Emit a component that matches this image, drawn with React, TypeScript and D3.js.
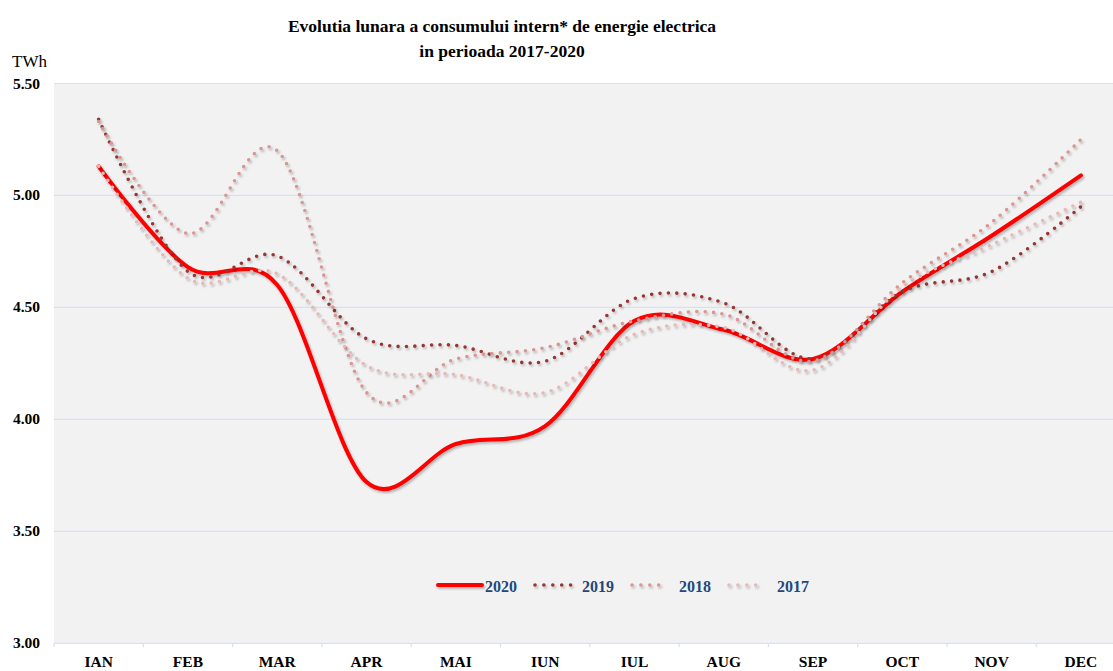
import React from "react";
import * as d3 from "d3";

const months = ["IAN", "FEB", "MAR", "APR", "MAI", "IUN", "IUL", "AUG", "SEP", "OCT", "NOV", "DEC"];
const values2020 = [5.13, 4.68, 4.6, 3.72, 3.89, 3.97, 4.44, 4.4, 4.27, 4.57, 4.82, 5.09];
const values2019 = [5.34, 4.66, 4.73, 4.36, 4.33, 4.26, 4.54, 4.52, 4.27, 4.57, 4.66, 4.95];
const values2018 = [5.33, 4.83, 5.2, 4.12, 4.27, 4.32, 4.44, 4.47, 4.26, 4.61, 4.88, 5.25];
const values2017 = [5.13, 4.63, 4.65, 4.24, 4.2, 4.12, 4.38, 4.41, 4.22, 4.59, 4.78, 4.97];
const yTicks = [3.0, 3.5, 4.0, 4.5, 5.0, 5.5];
const yTickLabels = ["3.00", "3.50", "4.00", "4.50", "5.00", "5.50"];
const seriesNames = ["2020", "2019", "2018", "2017"];

const W = 1113;
const H = 671;
const FONT = "'Liberation Serif', 'Times New Roman', serif";

export default function App() {
  const plotLeft = 54;
  const plotRight = 1125.6;
  const plotTop = 83.5;
  const plotBottom = 643.3;

  const x = d3.scaleBand<string>().domain(months).range([plotLeft, plotRight]).padding(0);
  const y = d3.scaleLinear().domain([3, 5.5]).range([plotBottom, plotTop]);
  const cx = (m: string) => (x(m) as number) + x.bandwidth() / 2;

  const line = d3
    .line<number>()
    .x((_, i) => cx(months[i]))
    .y((d) => y(d))
    .curve(d3.curveCardinal.tension(0));

  const series = [
    { name: seriesNames[0], values: values2020, color: "#ff0000", width: 4, dash: undefined as string | undefined },
    { name: seriesNames[1], values: values2019, color: "#953735", width: 3.6, dash: "0 8.4" },
    { name: seriesNames[2], values: values2018, color: "#d99694", width: 3.6, dash: "0 8.4" },
    { name: seriesNames[3], values: values2017, color: "#e6b9b8", width: 3.6, dash: "0 8.4" },
  ];

  const boundaries = d3.range(months.length + 1).map((i) => plotLeft + i * x.bandwidth()).filter((v) => v <= W);

  const legendItems = [
    { x0: 438, x1: 482, tx: 485 },
    { x0: 535, x1: 571, tx: 582 },
    { x0: 632, x1: 667, tx: 679 },
    { x0: 729, x1: 764, tx: 777 },
  ];
  const legendY = 585;

  return (
    <svg
      width={W}
      height={H}
      style={{ position: "fixed", left: 0, top: 0, background: "#ffffff" }}
      fontFamily={FONT}
    >
      <defs>
        <filter id="shadow" filterUnits="userSpaceOnUse" x={0} y={0} width={W} height={H}>
          <feDropShadow dx="1.5" dy="2" stdDeviation="1" floodColor="#000000" floodOpacity="0.25" />
        </filter>
        <clipPath id="plotClip">
          <rect x={plotLeft} y={0} width={W - plotLeft} height={H} />
        </clipPath>
      </defs>

      <rect x={0} y={0} width={W} height={H} fill="#ffffff" />
      <rect x={plotLeft} y={plotTop} width={W - plotLeft} height={plotBottom - plotTop} fill="#f2f2f2" />

      {yTicks.map((t, i) => (
        <g key={t}>
          <line x1={plotLeft} x2={W} y1={y(t)} y2={y(t)} stroke="#d5e2f2" strokeWidth={1.2} />
          <text x={40} y={y(t) + 5} textAnchor="end" fontSize={15.5} fontWeight="bold" fill="#000">
            {yTickLabels[i]}
          </text>
        </g>
      ))}

      {boundaries.map((b) => (
        <line key={b} x1={b} x2={b} y1={plotBottom} y2={plotBottom + 4} stroke="#d5e2f2" strokeWidth={1.2} />
      ))}

      {months.map((m) => (
        <text key={m} x={cx(m)} y={667} textAnchor="middle" fontSize={15.5} fontWeight="bold" fill="#000">
          {m}
        </text>
      ))}

      <text x={12} y={67} fontSize={17} fill="#000">
        TWh
      </text>

      <text x={502} y={32} textAnchor="middle" fontSize={17.5} fontWeight="bold" fill="#000">
        Evolutia lunara a consumului intern* de energie electrica
      </text>
      <text x={502} y={56.5} textAnchor="middle" fontSize={17.5} fontWeight="bold" fill="#000">
        in perioada 2017-2020
      </text>

      <g clipPath="url(#plotClip)">
        {series.map((s) => (
          <path
            key={s.name}
            d={line(s.values) || ""}
            fill="none"
            stroke={s.color}
            strokeWidth={s.width}
            strokeLinecap="round"
            strokeLinejoin="round"
            strokeDasharray={s.dash}
            filter="url(#shadow)"
          />
        ))}
      </g>

      {series.map((s, i) => (
        <g key={"lg" + s.name}>
          <line
            x1={legendItems[i].x0}
            x2={legendItems[i].x1}
            y1={legendY}
            y2={legendY}
            stroke={s.color}
            strokeWidth={s.width}
            strokeLinecap="round"
            strokeDasharray={s.dash ? "0 8.9" : undefined}
            filter="url(#shadow)"
          />
          <text x={legendItems[i].tx} y={legendY + 6.5} fontSize={16} fontWeight="bold" fill="#1f497d">
            {s.name}
          </text>
        </g>
      ))}
    </svg>
  );
}
